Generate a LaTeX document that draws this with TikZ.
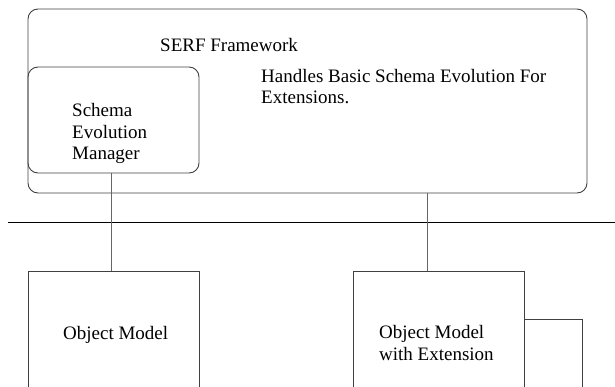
\documentclass[tikz,border=0pt]{standalone}
\usepackage{fontspec}
\setmainfont{Liberation Serif}
\begin{document}
\begin{tikzpicture}[x=1pt,y=-1pt,
  box/.style={draw=black!75, line width=0.9pt, minimum width=171pt, inner sep=0pt},
  rbox/.style={box, rounded corners=10pt},
  lbl/.style={font=\fontsize{19}{21.5}\selectfont, inner sep=0pt, anchor=base west, align=left},
  wire/.style={draw=black!60, line width=0.9pt},
  bus/.style={draw=black, line width=0.9pt}]
\useasboundingbox (0,0) rectangle (615,387);
\clip (0,0) rectangle (615,387);
% boxes
\node[rbox, minimum width=559pt, minimum height=184pt] (serf) at (307.5,101) {};
\node[rbox, minimum width=171pt, minimum height=106pt] (sem) at (113.5,120) {};
\node[box, minimum height=126pt] (om) at (113.5,334) {};
\node[box, minimum height=126pt] (omx) at (439,334) {};
\node[box, minimum width=58pt, minimum height=78pt] (ext) at (553,358) {};
% labels (base anchor of a multi-line node = baseline of its last line)
\node[lbl] (serft) at (160,52) {SERF Framework};
\node[lbl] (desc) at (261,104) {Handles Basic Schema Evolution For\\Extensions.};
\node[lbl] (semt) at (72,160) {Schema\\Evolution\\Manager};
\node[lbl] (omt) at (63,339) {Object Model};
\node[lbl] (omxt) at (379,360) {Object Model\\with Extension};
% bus and connectors
\coordinate (busL) at (8,222);
\coordinate (busR) at (615,222);
\draw[bus] (busL) -- (busR);
\coordinate (tapA) at (111,0);
\coordinate (tapB) at (427,0);
\draw[wire] (sem.south -| tapA) -- (om.north -| tapA);
\draw[wire] (serf.south -| tapB) -- (omx.north -| tapB);
\end{tikzpicture}
\end{document}
